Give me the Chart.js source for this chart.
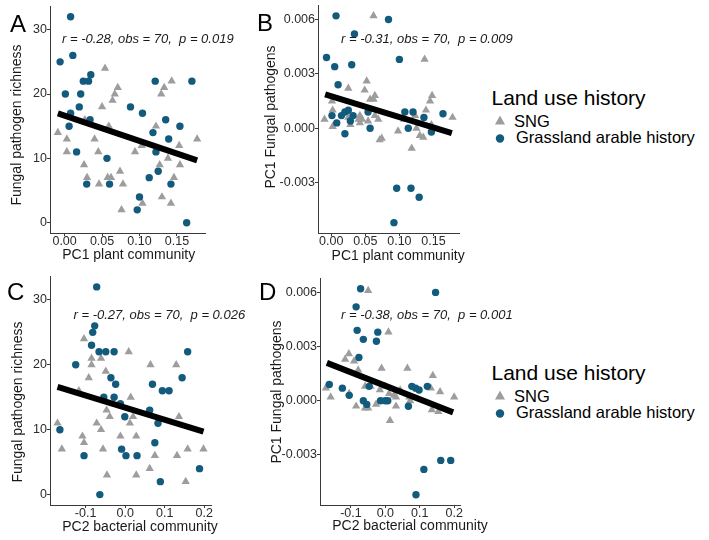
<!DOCTYPE html>
<html><head><meta charset="utf-8">
<script src="https://cdn.jsdelivr.net/npm/chart.js@4.4.1/dist/chart.umd.min.js"></script>
<style>
html,body{margin:0;padding:0;background:#fff;}
body{width:709px;height:540px;position:relative;overflow:hidden;font-family:"Liberation Sans",Arial,sans-serif;}
canvas{position:absolute;}
.t{position:absolute;white-space:pre;color:#000;line-height:1;}
.r{position:absolute;white-space:pre;color:#1a1a1a;line-height:1;transform:translate(-50%,-50%) rotate(-90deg);}
svg{position:absolute;}
</style></head><body>
<script>
// ---------------- DATA ----------------
// Panel A: PC1 plant community vs Fungal pathogen richness
const A_sng_x = [0.054,0.071,0.067,0.064,0.050,0.027,0.059,-0.009,0.003,0.040,0.003,0.045,0.026,0.030,0.0575,0.062,0.074,0.046,0.078,0.076,0.104,0.094,0.103,0.143,0.133,0.129,0.122,0.153,0.138,0.127,0.154,0.146,0.130,0.142,0.177];
const A_sng_y = [24,21,20,19,18,16,15,14,13,13,11,11,9,7,7,7,8,6,6,2,3,11,12,22,21,20,15,12,10,9,9,7,4,3,13];
const A_gal_x = [-0.006,0.008,0.011,0.035,0.025,0.032,0.001,0.0215,0.0196,0.008,0.034,0.006,0.016,0.0566,0.0295,0.060,0.088,0.104,0.121,0.170,0.135,0.118,0.154,0.139,0.122,0.125,0.113,0.142,0.100,0.097,0.163];
const A_gal_y = [25,32,26,23,22,22,20,20,18,17,16,15,11,10,6,6,18,17,22,22,16,14,15,13,11,8,7,6,4,2,0];
const A_fit_x = [-0.009,0.177];
const A_fit_y = [17.0,9.7];

// Panel B: PC1 plant community vs PC1 Fungal pathogens
const B_sng_x = [0.062,0.137,0.052,0.025,0.049,0.064,0.057,0.062,0.148,0.145,0.001,0.002,-0.010,0.002,0.025,0.028,0.042,0.045,0.040,0.054,0.064,0.069,0.074,0.071,0.098,0.118,0.123,0.125,0.130,0.135,0.139,0.147,0.178,0.107,0.042];
const B_sng_y = [0.0062,0.0038,0.0026,0.0022,0.0021,0.0018,0.0016,0.0016,0.0018,0.0015,0.0015,0.0010,0.0005,0.0001,0.0006,0.0002,0.0007,0.0005,0.0005,0.0004,0.0007,0.0005,-0.00055,-0.00064,-0.00015,-0.0011,0.0007,0.0,-0.0004,-0.0005,0.0010,0.0002,0.0006,0.0005,0.0003];
const B_gal_x = [0.007,0.084,0.034,-0.007,0.005,0.030,0.100,0.010,0.001,0.008,0.015,0.020,0.025,0.020,0.028,0.032,0.054,0.057,0.108,0.113,0.120,0.136,0.147,0.164,0.096,0.117,0.129,0.092];
const B_gal_y = [0.0062,0.0060,0.0052,0.0039,0.0034,0.0035,0.0038,0.0024,0.0007,0.0003,0.0007,0.0009,0.0010,-0.0003,0.0004,0.0007,0.0009,0.0000,0.0009,0.0000,0.0009,0.0006,-0.0002,0.0008,-0.0033,-0.0033,-0.0038,-0.0052];
const B_fit_x = [-0.009,0.177];
const B_fit_y = [0.00187,-0.00027];

// Panel C: PC2 bacterial community vs Fungal pathogen richness
const C_sng_x = [-0.104,-0.085,-0.061,-0.085,-0.049,-0.092,0.009,0.064,0.129,0.014,-0.117,-0.171,-0.160,-0.108,-0.104,-0.072,-0.061,-0.047,-0.039,-0.056,-0.046,-0.012,0.020,0.012,0.028,0.028,0.062,0.075,0.136,0.131,0.153,0.158,0.198];
const C_sng_y = [24,21,21,20,19,18,22,20,20,15,16,11,7,9,8,11,10,13,12,7,3,9,12,11,9,3,4,6,12,6,2,7,7];
const C_gal_x = [-0.072,-0.077,-0.082,-0.085,-0.066,-0.049,-0.028,-0.125,-0.036,-0.024,0.069,0.094,0.111,0.158,0.144,-0.054,-0.028,-0.012,-0.001,0.062,0.083,-0.165,0.075,-0.009,-0.104,0.002,0.030,0.188,0.089,-0.064];
const C_gal_y = [32,26,25,23,22,22,22,20,18,17,17,16,16,22,18,15,15,14,12,13,11,10,8,7,6,6,6,4,2,0];
const C_fit_x = [-0.171,0.198];
const C_fit_y = [16.6,9.7];

// Panel D: PC2 bacterial community vs PC1 Fungal pathogens
const D_sng_x = [-0.050,0.009,-0.106,-0.117,-0.091,-0.079,-0.011,0.064,0.138,-0.173,-0.159,-0.059,-0.043,-0.016,-0.001,0.011,0.025,0.031,0.043,0.132,0.159,0.200,-0.085,-0.050,0.031,0.070,-0.105,-0.059,-0.027,0.0135,0.072,0.135,0.154];
const D_sng_y = [0.0061,0.0038,0.0026,0.0023,0.0022,0.0017,0.0018,0.0018,0.0014,0.0007,0.0002,0.0008,0.0008,0.0006,0.0008,0.0004,0.0003,0.0002,0.0006,0.0007,0.0005,0.0002,-0.0003,-0.0004,-0.0003,0.0002,0.0004,-0.0004,-0.0002,-0.0011,0.0,-0.0005,-0.0006];
const D_gal_x = [-0.072,0.146,-0.085,-0.082,-0.022,-0.064,-0.026,-0.077,-0.163,-0.125,-0.105,-0.047,-0.064,-0.054,-0.014,0.000,0.007,0.077,0.088,0.098,0.122,0.067,0.112,0.161,0.190,0.089];
const D_gal_y = [0.0062,0.0060,0.0052,0.0039,0.0038,0.0034,0.0033,0.0024,0.0009,0.0007,0.0003,0.0008,0.0,-0.0002,0.0,0.0,0.0,0.0008,0.0007,0.0006,0.0008,-0.0003,-0.0038,-0.0033,-0.0033,-0.0052];
const D_fit_x = [-0.170,0.197];
const D_fit_y = [0.0021,-0.00064];

// Tick labels
const ticksPC1 = [0.00,0.05,0.10,0.15];
const ticksPC2 = [-0.1,0.0,0.1,0.2];
const ticksRich = [0,10,20,30];
const ticksFung = [-0.003,0.000,0.003,0.006];

// Texts
const stats = ["r = -0.28, obs = 70,  p = 0.019","r = -0.31, obs = 70,  p = 0.009","r = -0.27, obs = 70,  p = 0.026","r = -0.38, obs = 70,  p = 0.001"];
const legendTitle = "Land use history";
const groups = ["SNG","Grassland arable history"];

// ---------------- STYLE ----------------
const BLUE = '#135b7c', GRAY = '#9d9d9d', AX = '#3a3a3a';
const FONT = '"Liberation Sans", Arial, sans-serif';

function pts(xs, ys){ return xs.map((x,i)=>({x:x, y:ys[i]})); }

function panel(P){
  const padL = 60, padT = 6, padR = 16, padB = 26;
  const W = P.r - P.l + padL + padR, H = P.b - P.t + padT + padB;
  const c = document.createElement('canvas');
  c.width = W; c.height = H;
  c.style.left = (P.l - padL) + 'px'; c.style.top = (P.t - padT) + 'px';
  c.style.width = W + 'px'; c.style.height = H + 'px';
  document.body.appendChild(c);
  const axis = (min, max, tv, fmt, isX) => ({
    type:'linear', min:min, max:max,
    afterFit: s => { if (isX) s.height = padB; else s.width = padL; },
    afterBuildTicks: s => { s.ticks = tv.map(v => ({value:v})); },
    ticks:{ callback: v => fmt(v), font:{size:12.5, family:FONT}, color:'#2b2b2b',
            padding: isX ? -2 : 0, maxRotation:0, autoSkip:false },
    grid:{ display:true, drawOnChartArea:false, drawTicks:true, tickLength:3, color:AX, lineWidth:1 },
    border:{ display:true, color:AX, width:1 }
  });
  new Chart(c, {
    type:'scatter',
    data:{ datasets:[
      { data: pts(P.fx, P.fy), showLine:true, borderColor:'#000', borderWidth:6, pointRadius:0,
        borderCapStyle:'butt', order:0 },
      { data: pts(P.gx, P.gy), pointStyle:'circle', pointRadius:3.7, backgroundColor:BLUE, borderWidth:0, order:1 },
      { data: pts(P.sx, P.sy), pointStyle:'triangle', pointRadius:4.8, backgroundColor:GRAY, borderWidth:0, order:2 }
    ]},
    options:{
      responsive:false, animation:false, devicePixelRatio:1,
      layout:{ padding:{ left:0, top:padT, right:padR, bottom:0 } },
      plugins:{ legend:{display:false}, tooltip:{enabled:false} },
      scales:{ x: axis(P.xmin, P.xmax, P.xt, P.xf, true), y: axis(P.ymin, P.ymax, P.yt, P.yf, false) }
    }
  });
}

const f2 = v => v.toFixed(2), f1 = v => v.toFixed(1), f0 = v => String(Math.round(v)), f3 = v => (Math.abs(v)<1e-9?0:v).toFixed(3);

panel({l:50, t:5, r:205, b:233, xmin:-0.0195, xmax:0.1875, ymin:-1.6, ymax:33.6, xt:ticksPC1, yt:ticksRich, xf:f2, yf:f0,
  sx:A_sng_x, sy:A_sng_y, gx:A_gal_x, gy:A_gal_y, fx:A_fit_x, fy:A_fit_y});
panel({l:318, t:4, r:459, b:233, xmin:-0.0195, xmax:0.1875, ymin:-0.00577, ymax:0.00677, xt:ticksPC1, yt:ticksFung, xf:f2, yf:f3,
  sx:B_sng_x, sy:B_sng_y, gx:B_gal_x, gy:B_gal_y, fx:B_fit_x, fy:B_fit_y});
panel({l:50, t:275, r:211, b:505, xmin:-0.19, xmax:0.217, ymin:-1.6, ymax:33.6, xt:ticksPC2, yt:ticksRich, xf:f1, yf:f0,
  sx:C_sng_x, sy:C_sng_y, gx:C_gal_x, gy:C_gal_y, fx:C_fit_x, fy:C_fit_y});
panel({l:320, t:277, r:460, b:505, xmin:-0.19, xmax:0.217, ymin:-0.00577, ymax:0.00677, xt:ticksPC2, yt:ticksFung, xf:f1, yf:f3,
  sx:D_sng_x, sy:D_sng_y, gx:D_gal_x, gy:D_gal_y, fx:D_fit_x, fy:D_fit_y});

// ---------------- TEXT ----------------
function txt(s, left, baseline, fs, extra){
  const d = document.createElement('div');
  d.className = 't'; d.textContent = s;
  d.style.left = left + 'px'; d.style.top = (baseline - 0.8465*fs) + 'px'; d.style.fontSize = fs + 'px';
  if (extra) Object.assign(d.style, extra);
  document.body.appendChild(d);
}
function rot(s, cx, cy, fs){
  const d = document.createElement('div');
  d.className = 'r'; d.textContent = s;
  d.style.left = cx + 'px'; d.style.top = cy + 'px'; d.style.fontSize = fs + 'px';
  document.body.appendChild(d);
}
// panel letters
txt('A', 10, 32, 24); txt('B', 257, 31.5, 24); txt('C', 7, 300, 24); txt('D', 259, 300, 24);
// stats
const it = {fontStyle:'italic', color:'#1a1a1a'};
txt(stats[0], 62, 43.3, 13, it); txt(stats[1], 341, 42.7, 13, it);
txt(stats[2], 73.5, 318.7, 13, it); txt(stats[3], 341, 319.3, 13, it);
// axis titles
const ax = {color:'#1a1a1a'};
txt('PC1 plant community', 62.2, 259.3, 14, ax);
txt('PC1 plant community', 331.6, 260, 14, ax);
txt('PC2 bacterial community', 62.2, 530.7, 14, ax);
txt('PC2 bacterial community', 332.2, 530, 14, ax);
rot('Fungal pathogen richness', 16, 125, 14);
rot('PC1 Fungal pathogens', 270, 116.5, 14);
rot('Fungal pathogen richness', 16.7, 402, 14);
rot('PC1 Fungal pathogens', 275.5, 392, 14);
// legends
function legend(dy){
  txt(legendTitle, 491.5, 105 + dy, 21);
  txt(groups[0], 514, 126.7 + dy, 16.5);
  txt(groups[1], 516, 143.3 + dy, 16.5);
  const ns = 'http://www.w3.org/2000/svg';
  const s = document.createElementNS(ns, 'svg');
  s.setAttribute('width', 20); s.setAttribute('height', 36);
  s.style.left = '490px'; s.style.top = (110 + dy) + 'px';
  const tri = document.createElementNS(ns, 'polygon');
  tri.setAttribute('points', '10,5.5 15,14.5 5,14.5'); tri.setAttribute('fill', GRAY);
  const cir = document.createElementNS(ns, 'circle');
  cir.setAttribute('cx', 10); cir.setAttribute('cy', 28.5); cir.setAttribute('r', 4.2); cir.setAttribute('fill', BLUE);
  s.appendChild(tri); s.appendChild(cir); document.body.appendChild(s);
}
legend(0); legend(275);
</script>
</body></html>
